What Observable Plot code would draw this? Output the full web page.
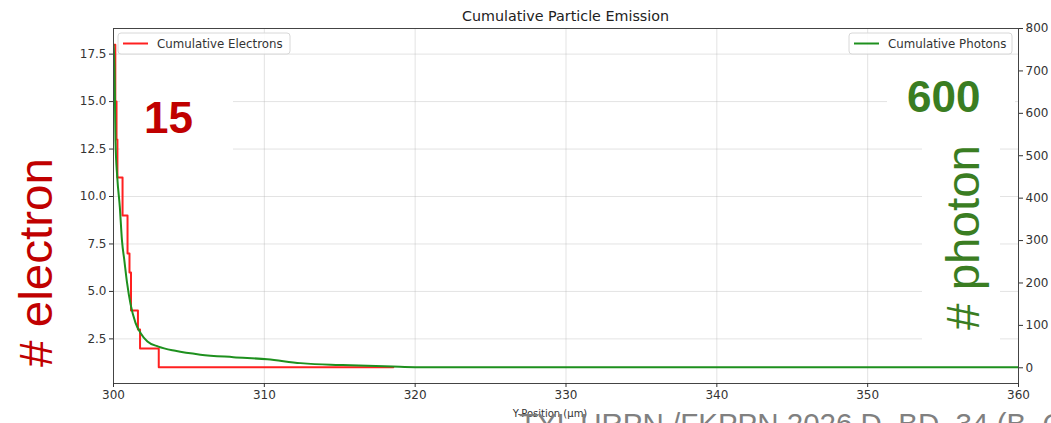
<!DOCTYPE html>
<html>
<head>
<meta charset="utf-8">
<script src="https://cdn.jsdelivr.net/npm/d3@7"></script>
<script src="https://cdn.jsdelivr.net/npm/@observablehq/plot@0.6"></script>
<style>
  html, body { margin: 0; padding: 0; background: white; }
  #chart svg { display: block; }
</style>
</head>
<body>
<div id="chart"></div>
<script>
// ---- Data ----
const electronX = [300.0, 300.12, 300.2, 300.26, 300.6, 300.93, 301.06, 301.16, 301.62, 301.76, 303.0, 318.55];
const electronY = [18, 15, 13, 11, 9, 7, 6, 4, 3, 2, 1, 1];

const photonX = [300.0, 300.07, 300.1, 300.13, 300.25, 300.42, 300.56, 300.73, 300.9, 301.13, 301.46, 301.79, 302.25, 302.98, 304.1, 305.76, 307.95, 310.2, 312.4, 314.4, 315.7, 318.5, 320, 325, 330, 340, 350, 360];
const photonY = [762, 700, 620, 536, 449, 379, 301, 250, 200, 150, 106, 82, 62, 50, 40, 31, 25, 20, 11, 7, 6, 3, 1.5, 1, 1, 1, 1, 1];

const xTicks = [300, 310, 320, 330, 340, 350, 360];
const electronTicks = [2.5, 5.0, 7.5, 10.0, 12.5, 15.0, 17.5];
const photonTicks = [0, 100, 200, 300, 400, 500, 600, 700, 800];

const electronDomain = [0.15, 18.85];
const photonDomain = [-37.05, 800.05];

// map photon values onto the electron (left) scale, like a twin axis
const toE = p => electronDomain[0] + (p - photonDomain[0]) / (photonDomain[1] - photonDomain[0]) * (electronDomain[1] - electronDomain[0]);
const fromE = e => photonDomain[0] + (e - electronDomain[0]) / (electronDomain[1] - electronDomain[0]) * (photonDomain[1] - photonDomain[0]);

const electrons = electronX.map((x, i) => ({x, y: electronY[i]}));
const photons = photonX.map((x, i) => ({x, y: toE(photonY[i])}));

const RED = "#ff2020";
const GREEN = "#1e901e";

const plot = Plot.plot({
  width: 1051,
  height: 423,
  marginLeft: 113,
  marginRight: 33,
  marginTop: 28,
  marginBottom: 40,
  style: {fontFamily: "DejaVu Sans", fontSize: "12px", color: "#333", background: "white"},
  x: {domain: [300, 360]},
  y: {domain: electronDomain},
  marks: [
    Plot.gridX(xTicks, {stroke: "#b0b0b0", strokeOpacity: 0.35}),
    Plot.gridY(electronTicks, {stroke: "#b0b0b0", strokeOpacity: 0.35}),
    Plot.line(electrons, {x: "x", y: "y", stroke: RED, strokeWidth: 2, curve: "step-after", clip: true}),
    Plot.line(photons, {x: "x", y: "y", stroke: GREEN, strokeWidth: 2, curve: "monotone-x", clip: true}),
    Plot.frame({stroke: "#444", strokeWidth: 1}),
    Plot.axisX(xTicks, {tickSize: 4, tickPadding: 3, label: null, tickFormat: d => String(d), fill: "#333"}),
    Plot.axisY(electronTicks, {anchor: "left", tickSize: 4, tickPadding: 3, label: null, tickFormat: d3.format(".1f"), fill: "#333"}),
    Plot.axisY(photonTicks.map(toE), {anchor: "right", tickSize: 4, tickPadding: 3, label: null, tickFormat: d => String(Math.round(fromE(d))), fill: "#333"})
  ]
});

document.getElementById("chart").appendChild(plot);

// ---- Overlays: title, labels, legends, annotations ----
const svg = d3.select(plot);
const g = svg.append("g").attr("text-anchor", "start");

g.append("text").attr("x", 565.5).attr("y", 21).attr("text-anchor", "middle")
  .attr("font-family", "DejaVu Sans").attr("font-size", 14.3).attr("fill", "#222")
  .text("Cumulative Particle Emission");

g.append("text").attr("x", 550).attr("y", 417).attr("text-anchor", "middle")
  .attr("font-family", "DejaVu Sans").attr("font-size", 10).attr("fill", "#333")
  .text("Y-Position (µm)");

// legends
function legend(x0, x1, label, color) {
  g.append("rect").attr("x", x0).attr("y", 33).attr("width", x1 - x0).attr("height", 21)
    .attr("rx", 3).attr("fill", "white").attr("fill-opacity", 0.85).attr("stroke", "#d8d8d8");
  g.append("line").attr("x1", x0 + 5).attr("x2", x0 + 30).attr("y1", 43.5).attr("y2", 43.5)
    .attr("stroke", color).attr("stroke-width", 2);
  g.append("text").attr("x", x0 + 39).attr("y", 43.5).attr("dy", "0.35em").attr("text-anchor", "start")
    .attr("font-family", "DejaVu Sans").attr("font-size", 11.8).attr("fill", "#333").text(label);
}
legend(118, 290, "Cumulative Electrons", RED);
legend(849, 1012, "Cumulative Photons", GREEN);

// pasted annotation boxes
g.append("rect").attr("x", 120).attr("y", 62).attr("width", 113).attr("height", 98).attr("fill", "white");
g.append("rect").attr("x", 887).attr("y", 62).attr("width", 128).attr("height", 70).attr("fill", "white");
g.append("rect").attr("x", 922).attr("y", 135).attr("width", 78).attr("height", 215).attr("fill", "white");

g.append("text").attr("x", 144).attr("y", 133).attr("text-anchor", "start").attr("font-family", "Liberation Sans")
  .attr("font-weight", "bold").attr("font-size", 44).attr("fill", "#c00000").text("15");
g.append("text").attr("x", 907).attr("y", 112).attr("text-anchor", "start").attr("font-family", "Liberation Sans")
  .attr("font-weight", "bold").attr("font-size", 44).attr("fill", "#3a7d22").text("600");

g.append("text").attr("transform", "translate(52,262.5) rotate(-90)").attr("text-anchor", "middle")
  .attr("font-family", "Liberation Sans").attr("font-size", 46).attr("fill", "#c00000")
  .attr("textLength", 209).attr("lengthAdjust", "spacingAndGlyphs").text("# electron");
g.append("text").attr("transform", "translate(979,237.5) rotate(-90)").attr("text-anchor", "middle")
  .attr("font-family", "Liberation Sans").attr("font-size", 46).attr("fill", "#3a7d22")
  .attr("textLength", 185).attr("lengthAdjust", "spacingAndGlyphs").text("# photon");

// partially visible caption at the bottom edge
g.append("text").attr("x", 519).attr("y", 434).attr("text-anchor", "start").attr("font-family", "Liberation Sans")
  .attr("font-size", 29.5).attr("fill", "#808080").text("TYL URPN /FKPPN 2026 D. BD. 34 (B. C");
</script>
</body>
</html>
